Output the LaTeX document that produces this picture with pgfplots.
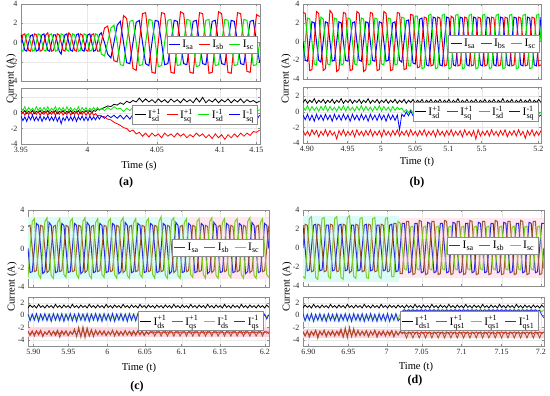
\documentclass[border=0pt]{standalone}
\usepackage{pgfplots}
\pgfplotsset{compat=1.18}
\usepackage{pgfplotstable}
\usepackage{amsmath}
\usepackage{fontspec}
\setmainfont{Liberation Serif}
\definecolor{cB}{RGB}{0,0,255}
\definecolor{cR}{RGB}{255,0,0}
\definecolor{cG}{RGB}{0,230,0}
\definecolor{dB}{RGB}{40,40,225}
\definecolor{dBr}{RGB}{155,85,45}
\definecolor{dG}{RGB}{125,205,40}
\definecolor{dR}{RGB}{235,30,30}
\definecolor{shC}{RGB}{218,251,248}
\definecolor{shP}{RGB}{255,230,239}
\definecolor{shP2}{RGB}{255,212,225}
\newcommand{\Ls}[1]{$\text{I}_{\text{#1}}$}
\newcommand{\Ld}[2]{$\text{I}^{\text{#1}}_{\text{#2}}$}

\pgfplotstableread{
t a b c d q n m
3.9500 0.8 0 -0.8 0.2 -0.2 0.7 -0.4
3.9516 0 0.8 -0.9 0.0 0.1 0.3 -1.0
3.9532 -0.8 0.9 0 0.3 -0.3 0.8 -0.5
3.9548 -0.9 0 0.8 -0.1 0.2 0.2 -1.1
3.9564 0 -0.8 0.9 0.2 -0.2 0.7 -0.4
3.9580 0.7 -0.9 0 0.0 0.1 0.3 -0.9
3.9596 0.8 0 -0.9 0.3 -0.3 0.6 -0.3
3.9612 0 0.9 -0.8 -0.1 0.2 0.2 -1.0
3.9628 -0.9 0.8 0 0.2 -0.2 0.8 -0.5
3.9644 -0.8 0 0.9 0.0 0.2 0.3 -1.0
3.9660 0 -0.9 0.8 0.3 -0.3 0.7 -0.4
3.9676 0.8 -0.8 0 -0.1 0.1 0.2 -1.1
3.9692 0.9 0 -0.8 0.2 -0.2 0.7 -0.5
3.9708 0 0.8 -0.9 0.0 0.2 0.3 -0.9
3.9724 -0.8 1.0 0 0.3 -0.3 0.8 -0.4
3.9740 -0.9 0 0.8 -0.1 0.1 0.2 -1.0
3.9756 0 -0.9 0.9 0.2 -0.2 0.6 -0.5
3.9772 0.8 -0.8 0 0.0 0.2 0.3 -1.0
3.9788 0.8 0 -0.9 0.3 -0.3 0.8 -0.4
3.9804 0 0.9 -0.8 -0.1 0.1 0.2 -1.1
3.9820 -0.9 0.8 0 0.2 -0.2 0.7 -0.5
3.9836 -1.2 0 0.9 0.0 0.2 0.3 -1.4
3.9852 0 -0.8 0.8 0.3 -0.3 0.7 -0.6
3.9868 0.8 -0.9 0 -0.1 0.1 0.2 -1.0
3.9884 0.9 0 -0.8 0.2 -0.2 0.8 -0.4
3.9900 0 1.0 -0.9 0.0 0.3 0.3 -1.0
3.9916 -0.8 0.8 0 0.3 -0.3 0.7 -0.5
3.9932 -0.9 0 0.9 -0.1 0.1 0.2 -1.0
3.9948 0 -0.8 0.8 0.2 -0.2 0.6 -0.4
3.9964 0.8 -0.9 0 0.0 0.2 0.3 -1.1
3.9980 0.9 0 -0.9 0.3 -0.3 0.8 -0.5
3.9996 0 0.9 -0.8 -0.1 0.1 0.2 -0.9
4.0012 -0.8 0.8 0 0.2 -0.2 0.7 -0.4
4.0028 -0.9 0 0.9 0.0 0.2 0.3 -1.0
4.0044 0 -0.8 0.8 0.3 -0.3 0.7 -0.5
4.0060 0.8 -0.9 0 0.0 0.1 0.2 -1.0
4.0076 0.9 0 -0.9 0.3 -0.3 0.6 -0.4
4.0092 0 0.8 -0.8 0.0 0.1 0.3 -0.9
4.0108 -0.9 0.9 0 0.3 -0.3 0.7 -0.5
4.0124 -0.8 0 0.9 0.2 -0.1 0.3 -0.9
4.0140 0 -0.9 0.8 0.5 -0.4 0.7 -0.4
4.0156 0.8 -0.9 0 0.4 -0.3 0.3 -0.8
4.0172 1.0 0 -1.2 0.5 -0.4 0.6 -0.4
4.0199 0 1.5 -1.4 0.7 -0.5 0.3 -0.7
4.0225 -1.2 1.7 0 0.9 -0.8 0.7 -0.3
4.0252 -1.6 0 1.5 0.8 -0.9 0.4 -0.6
4.0278 0 -1.9 1.8 1.1 -1.2 0.8 -0.3
4.0305 1.8 -2.0 0 1.0 -1.4 0.5 -0.7
4.0331 2.2 0 -2.3 1.3 -1.6 0.6 -0.3
4.0358 0 2.8 -2.4 1.1 -1.9 0.2 -0.8
4.0384 -2.1 2.5 0 1.5 -2.0 0.6 -0.3
4.0411 -2.2 0 2.2 1.3 -2.4 0.3 -0.8
4.0437 0 -2.7 2.3 1.6 -2.2 0.7 -0.2
4.0464 2.1 -2.9 0 1.4 -2.7 0.2 -0.9
4.0490 2.3 0 -2.4 1.9 -2.5 0.6 -0.3
4.0517 0 3.0 -2.3 1.4 -3.0 0.3 -0.8
4.0543 -2.2 3.1 0 1.8 -2.6 0.7 -0.2
4.0570 -2.4 0 2.4 1.4 -3.1 0.2 -0.9
4.0596 0 -3.1 2.3 1.7 -2.6 0.6 -0.3
4.0623 2.3 -3.2 0 1.3 -3.0 0.3 -0.8
4.0649 2.2 0 -2.5 1.8 -2.7 0.7 -0.2
4.0676 0 3.1 -2.4 1.4 -3.2 0.2 -0.9
4.0702 -2.3 3.0 0 1.7 -2.6 0.6 -0.3
4.0729 -2.2 0 2.3 1.3 -3.0 0.3 -0.8
4.0755 0 -3.1 2.4 1.8 -2.7 0.7 -0.2
4.0782 2.3 -3.2 0 1.4 -3.1 0.2 -0.9
4.0808 2.2 0 -2.4 1.7 -2.6 0.6 -0.3
4.0835 0 3.2 -2.3 1.3 -3.0 0.3 -0.8
4.0861 -2.2 3.0 0 1.8 -2.7 0.7 -0.2
4.0888 -2.3 0 2.4 1.4 -3.2 0.2 -0.9
4.0914 0 -3.1 2.3 1.7 -2.8 0.6 -0.3
4.0941 2.2 -3.2 0 1.3 -3.1 0.3 -0.8
4.0967 2.3 0 -2.5 1.9 -2.6 0.7 -0.2
4.0994 0 3.1 -2.4 1.4 -3.0 0.2 -0.9
4.1020 -2.2 3.0 0 2.0 -2.7 0.6 -0.3
4.1047 -2.3 0 2.3 1.3 -3.2 0.3 -0.8
4.1073 0 -3.2 2.4 1.7 -2.8 0.7 -0.2
4.1100 2.2 -3.1 0 1.4 -3.3 0.2 -0.9
4.1126 2.3 0 -2.4 1.8 -2.7 0.6 -0.3
4.1153 0 3.2 -2.3 1.3 -3.2 0.3 -0.8
4.1179 -2.2 3.0 0 1.7 -2.8 0.7 -0.2
4.1206 -2.3 0 2.4 1.4 -3.4 0.2 -0.9
4.1232 0 -3.1 2.3 1.8 -2.8 0.6 -0.3
4.1259 2.3 -3.2 0 1.3 -3.2 0.3 -0.8
4.1285 2.2 0 -2.4 1.7 -2.7 0.7 -0.2
4.1312 0 3.1 -2.3 1.4 -3.1 0.2 -0.9
4.1338 -2.2 3.0 0 1.8 -2.6 0.6 -0.3
4.1365 -2.3 0 2.4 1.3 -3.0 0.3 -0.8
4.1391 0 -3.0 2.3 1.7 -2.6 0.7 -0.2
4.1418 2.2 -3.1 0 1.4 -2.9 0.2 -0.9
4.1444 2.3 0 -2.4 1.6 -2.4 0.5 -0.3
4.1471 0 2.9 -2.3 1.3 -2.5 0.2 -0.9
4.1497 -2.1 2.7 0 1.5 -2.2 0.4 -0.3
}\tabA

\pgfplotstableread{
t a b c d q n m
4.9000 0 3.1 -2.5 1.2 -2.4 0.7 -0.4
4.9028 -2.0 3.0 0 1.6 -3.0 0.2 -1.0
4.9057 -2.1 0 2.5 1.1 -2.5 0.8 -0.3
4.9085 0 -3.1 2.4 1.5 -3.1 0.1 -1.1
4.9113 2.1 -3.0 0 1.2 -2.3 0.7 -0.4
4.9142 2.0 0 -2.4 1.7 -2.9 0.2 -1.2
4.9170 0 3.2 -2.5 1.1 -2.4 0.6 -0.3
4.9198 -2.0 3.0 0 1.5 -3.2 0.1 -1.0
4.9226 -2.2 0 2.6 1.2 -2.5 0.7 -0.4
4.9255 0 -3.1 2.4 1.6 -3.0 0.2 -1.1
4.9283 2.1 -2.9 0 1.1 -2.3 0.8 -0.3
4.9311 2.0 0 -2.4 1.5 -3.1 0.1 -1.0
4.9340 0 3.3 -2.5 1.2 -2.4 0.7 -0.4
4.9368 -2.1 3.0 0 1.6 -3.0 0.2 -1.2
4.9396 -2.0 0 2.5 1.1 -2.6 0.6 -0.3
4.9425 0 -3.2 2.4 1.5 -3.5 0.1 -1.0
4.9453 2.1 -3.0 0 1.2 -2.4 0.7 -0.4
4.9481 2.0 0 -2.5 1.7 -3.0 0.2 -1.1
4.9509 0 3.1 -2.4 1.1 -2.3 0.8 -0.3
4.9538 -2.0 3.0 0 1.5 -3.1 0.1 -1.0
4.9566 -2.1 0 2.5 1.2 -2.5 0.7 -0.4
4.9594 0 -3.1 2.4 1.6 -3.0 0.2 -1.2
4.9623 2.0 -3.0 0 1.1 -2.4 0.6 -0.3
4.9651 2.1 0 -2.4 1.5 -3.2 0.1 -1.0
4.9679 0 3.2 -2.5 1.2 -2.3 0.7 -0.4
4.9708 -2.0 3.0 0 1.6 -3.0 0.2 -1.1
4.9736 -2.1 0 2.5 1.1 -2.5 0.8 -0.3
4.9764 0 -3.2 2.4 1.5 -3.1 0.1 -1.0
4.9792 2.1 -3.0 0 1.2 -2.4 0.7 -0.4
4.9821 2.0 0 -2.5 1.7 -3.0 0.2 -1.2
4.9849 0 3.1 -2.4 1.1 -2.3 0.6 -0.3
4.9877 -2.0 3.0 0 1.5 -3.1 0.1 -1.0
4.9906 -2.1 0 2.5 1.2 -2.5 0.7 -0.4
4.9934 0 -3.1 2.4 1.6 -3.0 0.2 -1.1
4.9962 2.1 -3.0 0 1.1 -2.4 0.8 -0.3
4.9991 2.0 0 -2.4 1.5 -3.2 0.1 -1.0
5.0019 0 3.2 -2.5 1.2 -2.3 0.7 -0.4
5.0047 -2.1 3.0 0 1.6 -3.0 0.2 -1.2
5.0075 -2.0 0 2.5 1.1 -2.5 0.6 -0.3
5.0104 0 -3.1 2.4 1.5 -3.1 0.1 -1.0
5.0132 2.0 -3.0 0 1.2 -2.4 0.7 -0.4
5.0160 2.1 0 -2.5 1.6 -3.0 0.2 -1.1
5.0189 0 3.1 -2.4 1.1 -2.3 0.6 -0.4
5.0217 -2.0 3.0 0 1.5 -3.1 0.3 -2.3
5.0245 -2.2 0 2.6 1.2 -2.5 0.5 -0.3
5.0274 0 -3.0 2.5 1.6 -3.0 0.0 -0.6
5.0302 2.2 -2.9 0 1.1 -2.4 0.3 0.0
5.0330 2.3 0 -2.6 1.5 -3.1 -0.1 -0.5
5.0358 0 2.9 -2.6 1.2 -2.3 0.3 0.1
5.0387 -2.3 2.8 0 1.6 -3.0 -0.1 -0.5
5.0415 -2.4 0 2.7 1.1 -2.5 0.3 0.0
5.0443 0 -2.8 2.7 1.5 -3.1 -0.2 -0.6
5.0472 2.4 -2.7 0 1.2 -2.4 0.3 0.1
5.0500 2.5 0 -2.9 1.6 -3.0 -0.1 -0.5
5.0528 0 2.6 -2.8 1.1 -2.3 0.3 0.0
5.0557 -2.5 2.5 0 1.5 -3.1 -0.2 -0.6
5.0585 -2.6 0 2.8 1.2 -2.5 0.3 0.1
5.0613 0 -2.6 2.9 1.6 -3.0 -0.1 -0.5
5.0641 2.6 -2.5 0 1.1 -2.4 0.3 0.0
5.0670 2.5 0 -2.9 1.5 -3.2 -0.2 -0.6
5.0698 0 2.6 -2.8 1.2 -2.3 0.3 0.1
5.0726 -2.5 2.5 0 1.6 -3.0 -0.1 -0.5
5.0755 -2.6 0 2.8 1.1 -2.5 0.3 0.0
5.0783 0 -2.6 2.9 1.5 -3.1 -0.2 -0.6
5.0811 2.6 -2.5 0 1.2 -2.4 0.3 0.1
5.0840 2.5 0 -2.9 1.6 -3.0 -0.1 -0.5
5.0868 0 2.7 -2.8 1.1 -2.3 0.3 0.0
5.0896 -2.5 2.5 0 1.5 -3.1 -0.2 -0.6
5.0924 -2.6 0 2.8 1.2 -2.5 0.3 0.1
5.0953 0 -2.6 2.9 1.7 -3.0 -0.1 -0.5
5.0981 2.6 -2.5 0 1.1 -2.4 0.3 0.0
5.1009 2.5 0 -2.9 1.5 -3.2 -0.2 -0.6
5.1038 0 2.6 -2.8 1.2 -2.3 0.3 0.1
5.1066 -2.5 2.5 0 1.6 -3.0 -0.1 -0.5
5.1094 -2.6 0 2.8 1.1 -2.5 0.3 0.0
5.1123 0 -2.6 2.9 1.5 -3.1 -0.2 -0.6
5.1151 2.6 -2.5 0 1.2 -2.4 0.3 0.1
5.1179 2.5 0 -2.9 1.6 -3.5 -0.1 -0.5
5.1207 0 2.6 -2.8 1.1 -2.3 0.3 0.0
5.1236 -2.5 2.5 0 1.5 -3.1 -0.2 -0.6
5.1264 -2.6 0 2.8 1.2 -2.5 0.3 0.1
5.1292 0 -2.6 2.9 1.6 -3.0 -0.1 -0.5
5.1321 2.6 -2.5 0 1.1 -2.4 0.3 0.0
5.1349 2.5 0 -2.9 1.5 -3.1 -0.2 -0.6
5.1377 0 2.6 -2.8 1.2 -2.3 0.3 0.1
5.1406 -2.5 2.5 0 1.6 -3.0 -0.1 -0.5
5.1434 -2.6 0 2.8 1.1 -2.5 0.3 0.0
5.1462 0 -2.6 2.9 1.5 -3.1 -0.2 -0.6
5.1490 2.6 -2.5 0 1.2 -2.4 0.3 0.1
5.1519 2.5 0 -2.9 1.7 -3.0 -0.1 -0.5
5.1547 0 2.6 -2.8 1.1 -2.3 0.3 0.0
5.1575 -2.5 2.5 0 1.5 -3.2 -0.2 -0.6
5.1604 -2.6 0 2.8 1.2 -2.5 0.3 0.1
5.1632 0 -2.6 2.9 1.6 -3.0 -0.1 -0.5
5.1660 2.6 -2.5 0 1.1 -2.4 0.3 0.0
5.1689 2.5 0 -2.9 1.5 -3.1 -0.2 -0.6
5.1717 0 2.6 -2.8 1.2 -2.3 0.3 0.1
5.1745 -2.5 2.5 0 1.6 -3.0 -0.1 -0.5
5.1773 -2.6 0 2.8 1.1 -2.5 0.3 0.0
5.1802 0 -2.6 2.9 1.5 -3.4 -0.2 -0.6
5.1830 2.6 -2.5 0 1.2 -2.4 0.3 0.1
5.1858 2.5 0 -2.9 1.6 -3.0 -0.1 -0.5
5.1887 0 2.6 -2.8 1.1 -2.3 0.3 0.0
5.1915 -2.5 2.5 0 1.5 -3.1 -0.2 -0.6
5.1943 -2.6 0 2.8 1.2 -2.5 0.2 -0.2
5.1972 0 -2.6 2.9 1.6 -3.0 -0.3 -0.6
5.2000 2.6 -2.5 0 1.2 -2.4 0.0 -0.4
}\tabB

\pgfplotstableread{
t a b c d r q n m
5.9000 0 2.3 -3.0 1.2 -2.5 -2.8 0.1 0.3
5.9026 -2.5 2.4 0 1.7 -3.3 -3.1 -0.6 -0.9
5.9053 -2.4 0 2.8 1.3 -2.7 -2.5 0.2 0.2
5.9079 0 -2.4 3.1 1.6 -3.1 -3.4 -0.5 -0.8
5.9105 2.6 -2.3 0 1.2 -2.5 -2.6 0.1 0.3
5.9132 2.4 0 -2.7 1.8 -3.2 -3.0 -0.6 -1.0
5.9158 0 2.4 -3.1 1.3 -2.6 -2.4 0.2 0.2
5.9184 -2.6 2.3 0 1.6 -3.3 -3.5 -0.5 -0.8
5.9210 -2.4 0 2.8 1.2 -2.7 -2.7 0.1 0.3
5.9237 0 -2.5 3.2 1.7 -3.1 -3.1 -0.6 -0.9
5.9263 2.7 -2.3 0 1.3 -2.5 -2.5 0.2 0.2
5.9289 2.4 0 -2.8 1.6 -3.2 -3.3 -0.5 -1.0
5.9316 0 2.3 -3.1 1.2 -2.6 -2.6 0.1 0.3
5.9342 -2.5 2.4 0 1.8 -3.3 -3.0 -0.6 -0.8
5.9368 -2.4 0 2.7 1.3 -2.7 -2.4 0.2 0.2
5.9395 0 -2.4 3.1 1.6 -3.1 -3.6 -0.5 -0.9
5.9421 2.6 -2.3 0 1.2 -2.5 -2.7 0.1 0.3
5.9447 2.4 0 -2.7 1.7 -3.2 -3.0 -0.6 -1.0
5.9473 0 2.4 -3.0 1.3 -2.6 -2.5 0.2 0.2
5.9500 -2.5 2.3 0 1.6 -3.3 -3.3 -0.5 -0.8
5.9526 -2.4 0 2.8 1.2 -2.7 -2.6 0.1 0.3
5.9552 0 -2.4 3.1 1.8 -3.1 -3.1 -0.6 -0.9
5.9579 2.6 -2.3 0 1.3 -2.5 -2.2 0.2 0.2
5.9605 2.4 0 -2.7 1.6 -3.2 -3.5 -0.5 -1.0
5.9631 0 2.4 -3.1 1.2 -2.4 -1.9 0.1 0.3
5.9658 -2.6 2.3 0 1.7 -3.3 -3.6 -0.6 -0.8
5.9684 -2.4 0 2.8 1.3 -2.3 -1.8 0.2 0.2
5.9710 0 -2.5 3.2 1.6 -3.2 -3.7 -0.5 -0.9
5.9736 2.7 -2.3 0 1.2 -2.4 -2.0 0.1 0.3
5.9763 2.4 0 -2.8 1.8 -3.3 -3.4 -0.6 -1.0
5.9789 0 2.3 -3.1 1.3 -2.5 -2.3 0.2 0.2
5.9815 -2.5 2.4 0 1.6 -3.2 -3.5 -0.5 -0.8
5.9842 -2.4 0 2.7 1.2 -2.6 -2.4 0.1 0.3
5.9868 0 -2.4 3.1 1.7 -3.1 -3.2 -0.6 -0.9
5.9894 2.6 -2.3 0 1.3 -2.5 -2.6 0.2 0.2
5.9921 2.4 0 -2.7 1.6 -3.2 -3.1 -0.5 -1.0
5.9947 0 2.4 -3.0 1.2 -2.6 -2.5 0.1 0.3
5.9973 -2.5 2.3 0 1.8 -3.3 -3.3 -0.6 -0.8
5.9999 -2.4 0 2.8 1.3 -2.7 -2.6 0.2 0.2
6.0026 0 -2.4 3.1 1.6 -3.1 -3.2 -0.5 -0.9
6.0052 2.6 -2.3 0 1.2 -2.5 -2.4 0.1 0.3
6.0078 2.4 0 -2.7 1.7 -3.2 -3.4 -0.6 -1.0
6.0105 0 2.4 -3.1 1.3 -2.6 -2.5 0.2 0.2
6.0131 -2.6 2.3 0 1.6 -3.3 -3.1 -0.5 -0.8
6.0157 -2.4 0 2.8 1.2 -2.7 -2.6 0.1 0.3
6.0184 0 -2.5 3.2 1.8 -3.1 -3.3 -0.6 -0.9
6.0210 2.7 -2.3 0 1.3 -2.5 -2.5 0.2 0.2
6.0236 2.4 0 -2.8 1.6 -3.2 -3.2 -0.5 -1.0
6.0262 0 2.3 -3.1 1.2 -2.6 -2.6 0.1 0.3
6.0289 -2.5 2.4 0 1.7 -3.3 -3.0 -0.6 -0.8
6.0315 -2.4 0 2.7 1.3 -2.7 -2.5 0.2 0.2
6.0341 0 -2.4 3.1 1.6 -3.1 -3.3 -0.5 -0.9
6.0368 2.6 -2.3 0 1.2 -2.5 -2.6 0.1 0.3
6.0394 2.4 0 -2.7 1.8 -3.2 -3.1 -0.6 -1.0
6.0420 0 2.4 -3.0 1.3 -2.6 -2.5 0.2 0.2
6.0447 -2.5 2.3 0 1.6 -3.3 -3.2 -0.5 -0.8
6.0473 -2.4 0 2.8 1.2 -2.7 -2.6 0.1 0.2
6.0499 0 -2.4 3.1 1.7 -3.1 -3.0 -0.4 -0.5
6.0525 2.6 -2.3 0 1.3 -2.7 -2.6 -0.2 -0.3
6.0552 2.4 0 -2.7 1.6 -2.9 -2.6 -0.4 -0.5
6.0578 0 2.4 -3.1 1.2 -2.7 -3.4 -0.2 -0.3
6.0604 -2.5 2.3 0 1.7 -2.9 -2.6 -0.4 -0.5
6.0631 -2.4 0 2.8 1.3 -2.7 -2.6 -0.2 -0.3
6.0657 0 -2.4 3.3 1.6 -2.9 -3.4 -0.4 -0.5
6.0683 2.6 -2.3 0 1.2 -2.7 -2.6 -0.2 -0.3
6.0710 2.4 0 -2.8 1.7 -2.9 -2.6 -0.4 -0.5
6.0736 0 2.4 -3.1 1.3 -2.7 -3.4 -0.2 -0.3
6.0762 -2.6 2.3 0 1.6 -2.9 -2.6 -0.4 -0.5
6.0788 -2.4 0 2.9 1.2 -2.7 -2.6 -0.2 -0.3
6.0815 0 -2.5 3.2 1.8 -2.9 -3.4 -0.4 -0.5
6.0841 2.7 -2.3 0 1.3 -2.7 -2.6 -0.2 -0.3
6.0867 2.4 0 -2.8 1.6 -2.9 -2.6 -0.4 -0.5
6.0894 0 2.3 -3.1 1.2 -2.7 -3.4 -0.2 -0.3
6.0920 -2.5 2.4 0 1.7 -2.9 -2.6 -0.4 -0.5
6.0946 -2.4 0 2.7 1.3 -2.7 -2.6 -0.2 -0.3
6.0973 0 -2.4 3.1 1.6 -2.9 -3.4 -0.4 -0.5
6.0999 2.6 -2.3 0 1.2 -2.7 -2.6 -0.2 -0.3
6.1025 2.4 0 -2.7 1.8 -2.9 -2.6 -0.4 -0.5
6.1051 0 2.4 -3.0 1.3 -2.7 -3.4 -0.2 -0.3
6.1078 -2.5 2.3 0 1.6 -2.9 -2.6 -0.4 -0.5
6.1104 -2.4 0 2.8 1.2 -2.7 -2.6 -0.2 -0.3
6.1130 0 -2.4 3.1 1.7 -2.9 -3.4 -0.4 -0.5
6.1157 2.6 -2.3 0 1.3 -2.7 -2.6 -0.2 -0.3
6.1183 2.4 0 -2.7 1.6 -2.9 -2.6 -0.4 -0.5
6.1209 0 2.4 -3.1 1.2 -2.7 -3.4 -0.2 -0.3
6.1236 -2.6 2.3 0 1.8 -2.9 -2.6 -0.4 -0.5
6.1262 -2.4 0 2.8 1.3 -2.7 -2.6 -0.2 -0.3
6.1288 0 -2.5 3.2 1.6 -2.9 -3.4 -0.4 -0.5
6.1314 2.7 -2.3 0 1.2 -2.7 -2.6 -0.2 -0.3
6.1341 2.4 0 -2.8 1.7 -2.9 -2.6 -0.4 -0.5
6.1367 0 2.3 -3.1 1.3 -2.7 -3.4 -0.2 -0.3
6.1393 -2.5 2.4 0 1.6 -2.9 -2.6 -0.4 -0.5
6.1420 -2.4 0 2.7 1.2 -2.7 -2.6 -0.2 -0.3
6.1446 0 -2.4 3.1 1.8 -2.9 -3.4 -0.4 -0.5
6.1472 2.6 -2.3 0 1.3 -2.7 -2.6 -0.2 -0.3
6.1499 2.4 0 -2.7 1.6 -2.9 -2.6 -0.4 -0.5
6.1525 0 2.4 -3.0 1.2 -2.7 -3.4 -0.2 -0.3
6.1551 -2.5 2.3 0 1.7 -2.9 -2.6 -0.4 -0.5
6.1577 -2.4 0 2.8 1.3 -2.7 -2.6 -0.2 -0.3
6.1604 0 -2.4 3.1 1.6 -2.9 -3.4 -0.4 -0.5
6.1630 2.6 -2.3 0 1.2 -2.7 -2.6 -0.2 -0.3
6.1656 2.4 0 -2.7 1.8 -2.9 -2.6 -0.4 -0.5
6.1683 0 2.4 -3.1 1.3 -2.7 -3.4 -0.2 -0.3
6.1709 -2.6 2.3 0 1.6 -2.9 -2.6 -0.4 -0.5
6.1735 -2.4 0 2.8 1.2 -2.7 -2.6 -0.2 -0.3
6.1762 0 -2.5 3.2 1.7 -2.9 -3.4 -0.4 -0.5
6.1788 2.7 -2.3 0 1.3 -2.7 -2.6 -0.2 -0.3
6.1814 2.4 0 -2.8 1.6 -2.9 -2.6 -0.4 -0.5
6.1840 0 2.3 -3.1 1.2 -2.7 -3.4 -0.2 -0.3
6.1867 -2.5 2.4 0 1.7 -2.9 -2.6 -0.4 -0.5
6.1893 -2.4 0 2.7 1.3 -2.7 -2.6 -0.2 -0.3
6.1919 0 -2.4 3.1 1.6 -2.9 -3.4 -0.4 -0.5
6.1946 2.6 -2.3 0 1.2 -2.7 -2.6 0.1 0.2
6.1972 2.4 0 -2.7 1.7 -2.9 -2.6 -0.3 -0.6
6.1998 0 2.4 -3.0 1.3 -2.7 -3.0 0.1 0.1
}\tabC

\pgfplotstableread{
t a b c d r q n m
6.9000 2.4 0 -3.0 1.2 -2.6 -2.8 -0.1 0.3
6.9026 0 2.5 -3.2 1.7 -3.3 -3.4 -0.7 -0.9
6.9053 -2.4 2.4 0 1.3 -2.7 -2.5 -0.2 0.2
6.9079 -2.3 0 3.1 1.6 -3.2 -3.6 -0.6 -0.8
6.9105 0 -2.5 3.3 1.2 -2.6 -2.7 -0.1 0.3
6.9132 2.4 -2.4 0 1.8 -3.3 -3.1 -0.7 -1.0
6.9158 2.5 0 -3.1 1.3 -2.5 -2.4 -0.2 0.2
6.9184 0 2.5 -3.3 1.6 -3.4 -3.8 -0.6 -0.8
6.9210 -2.4 2.4 0 1.2 -2.6 -2.6 -0.1 0.3
6.9237 -2.3 0 3.1 1.7 -3.2 -3.2 -0.7 -0.9
6.9263 0 -2.5 3.2 1.3 -2.5 -2.4 -0.2 0.2
6.9289 2.4 -2.4 0 1.6 -3.3 -3.5 -0.6 -1.0
6.9316 2.4 0 -3.0 1.2 -2.6 -2.7 -0.1 0.3
6.9342 0 2.5 -3.2 1.8 -3.3 -3.1 -0.7 -0.8
6.9368 -2.4 2.4 0 1.3 -2.7 -2.5 -0.2 0.2
6.9395 -2.3 0 3.1 1.6 -3.2 -3.4 -0.6 -0.9
6.9421 0 -2.5 3.3 1.2 -2.6 -2.6 -0.1 0.3
6.9447 2.4 -2.4 0 1.7 -3.3 -3.0 -0.7 -1.0
6.9473 2.5 0 -3.1 1.3 -2.5 -2.2 -0.2 0.2
6.9500 0 2.5 -3.3 1.6 -3.4 -3.6 -0.6 -0.8
6.9526 -2.4 2.4 0 1.2 -2.4 -2.0 -0.1 0.3
6.9552 -2.3 0 3.2 1.8 -3.2 -3.7 -0.7 -0.9
6.9579 0 -2.6 3.4 1.3 -2.4 -1.9 -0.2 0.2
6.9605 2.4 -2.4 0 1.6 -3.3 -3.5 -0.6 -1.0
6.9631 2.4 0 -3.0 1.2 -2.5 -2.1 -0.1 0.3
6.9658 0 2.5 -3.2 1.7 -3.3 -3.4 -0.7 -0.8
6.9684 -2.4 2.4 0 1.3 -2.6 -2.4 -0.2 0.2
6.9710 -2.3 0 3.1 1.6 -3.2 -3.3 -0.6 -0.9
6.9736 0 -2.5 3.2 1.2 -2.6 -2.6 -0.1 0.3
6.9763 2.4 -2.4 0 1.8 -3.3 -3.1 -0.7 -1.0
6.9789 2.5 0 -3.1 1.3 -2.5 -2.5 -0.2 0.2
6.9815 0 2.5 -3.2 1.6 -3.4 -3.5 -0.6 -0.8
6.9842 -2.4 2.4 0 1.2 -2.6 -2.6 -0.1 0.3
6.9868 -2.3 0 3.1 1.7 -3.2 -3.2 -0.7 -0.9
6.9894 0 -2.5 3.2 1.3 -2.5 -2.4 -0.2 0.2
6.9921 2.4 -2.4 0 1.6 -3.3 -3.6 -0.6 -1.0
6.9947 2.4 0 -3.0 1.2 -2.6 -2.7 -0.1 0.3
6.9973 0 2.5 -3.2 1.8 -3.3 -3.1 -0.7 -0.8
6.9999 -2.4 2.4 0 1.3 -2.7 -2.5 -0.2 0.2
7.0026 -2.3 0 3.1 1.6 -3.2 -3.4 -0.6 -0.9
7.0052 0 -2.5 3.2 1.2 -2.6 -2.6 -0.1 0.3
7.0078 2.4 -2.4 0 1.7 -3.3 -3.0 -0.7 -1.0
7.0105 2.5 0 -3.0 1.3 -2.5 -2.5 -0.2 0.2
7.0131 0 2.6 -3.0 1.6 -3.4 -3.5 -0.6 -0.8
7.0157 -2.5 2.6 0 1.2 -2.6 -2.6 -0.1 0.3
7.0184 -2.4 0 2.8 1.7 -3.2 -3.2 -0.6 -0.9
7.0210 0 -2.7 2.6 1.3 -2.6 -2.7 0.2 -0.5
7.0236 2.6 -2.7 0 1.6 -3.0 -2.8 0.6 0.7
7.0262 2.6 0 -2.2 1.2 -2.7 -2.8 1.0 0.9
7.0289 0 2.8 -2.3 1.7 -3.0 -3.7 0.6 0.7
7.0315 -2.6 2.8 0 1.3 -2.7 -2.8 1.0 0.9
7.0341 -2.5 0 2.2 1.6 -3.0 -2.8 0.6 0.7
7.0368 0 -2.8 2.3 1.2 -2.7 -3.7 1.0 0.9
7.0394 2.6 -2.7 0 1.8 -3.0 -2.8 0.6 0.7
7.0420 2.6 0 -2.2 1.3 -2.7 -2.8 1.0 0.9
7.0447 0 2.9 -2.3 1.6 -3.0 -3.7 0.6 0.7
7.0473 -2.6 2.8 0 1.2 -2.7 -2.8 1.0 0.9
7.0499 -2.5 0 2.2 1.7 -3.0 -2.8 0.6 0.7
7.0525 0 -2.8 2.3 1.3 -2.7 -3.7 1.0 0.9
7.0552 2.7 -2.7 0 1.6 -3.0 -2.8 0.6 0.7
7.0578 2.6 0 -2.2 1.2 -2.7 -2.8 1.0 0.9
7.0604 0 2.8 -2.3 1.8 -3.0 -3.7 0.6 0.7
7.0631 -2.6 2.8 0 1.3 -2.7 -2.8 1.0 0.9
7.0657 -2.5 0 2.2 1.6 -3.0 -2.8 0.6 0.7
7.0683 0 -2.8 2.3 1.2 -2.7 -3.7 1.0 0.9
7.0710 2.6 -2.7 0 1.7 -3.0 -2.8 0.6 0.7
7.0736 2.6 0 -2.2 1.3 -2.7 -2.8 1.0 0.9
7.0762 0 2.9 -2.3 1.6 -3.0 -3.7 0.6 0.7
7.0788 -2.6 2.8 0 1.2 -2.7 -2.8 1.0 0.9
7.0815 -2.5 0 2.2 1.8 -3.0 -2.8 0.6 0.7
7.0841 0 -2.8 2.3 1.3 -2.7 -3.7 1.0 0.9
7.0867 2.7 -2.7 0 1.6 -3.0 -2.8 0.6 0.7
7.0894 2.6 0 -2.2 1.2 -2.7 -2.8 1.0 0.9
7.0920 0 2.8 -2.3 1.7 -3.0 -3.7 0.6 0.7
7.0946 -2.6 2.8 0 1.3 -2.7 -2.8 1.0 0.9
7.0973 -2.5 0 2.2 1.6 -3.0 -2.8 0.6 0.7
7.0999 0 -2.8 2.3 1.2 -2.7 -3.7 1.0 0.9
7.1025 2.6 -2.7 0 1.8 -3.0 -2.8 0.6 0.7
7.1051 2.6 0 -2.2 1.3 -2.7 -2.8 1.0 0.9
7.1078 0 2.9 -2.3 1.6 -3.0 -3.7 0.6 0.7
7.1104 -2.6 2.8 0 1.2 -2.7 -2.8 1.0 0.9
7.1130 -2.5 0 2.2 1.7 -3.0 -2.8 0.6 0.7
7.1157 0 -2.8 2.3 1.3 -2.7 -3.7 1.0 0.9
7.1183 2.7 -2.7 0 1.6 -3.0 -2.8 0.6 0.7
7.1209 2.6 0 -2.2 1.2 -2.7 -2.8 1.0 0.9
7.1236 0 2.8 -2.3 1.8 -3.0 -3.7 0.6 0.7
7.1262 -2.6 2.8 0 1.3 -2.7 -2.8 1.0 0.9
7.1288 -2.5 0 2.2 1.6 -3.0 -2.8 0.6 0.7
7.1314 0 -2.8 2.3 1.2 -2.7 -3.7 1.0 0.9
7.1341 2.6 -2.7 0 1.7 -3.0 -2.8 0.6 0.7
7.1367 2.6 0 -2.2 1.3 -2.7 -2.8 1.0 0.9
7.1393 0 2.9 -2.3 1.6 -3.0 -3.7 0.6 0.7
7.1420 -2.6 2.8 0 1.2 -2.7 -2.8 1.0 0.9
7.1446 -2.5 0 2.2 1.8 -3.0 -2.8 0.6 0.7
7.1472 0 -2.8 2.3 1.3 -2.7 -3.7 1.0 0.9
7.1499 2.7 -2.7 0 1.6 -3.0 -2.8 0.6 0.7
7.1525 2.6 0 -2.2 1.2 -2.7 -2.8 1.0 0.9
7.1551 0 2.8 -2.3 1.7 -3.0 -3.7 0.6 0.7
7.1577 -2.6 2.8 0 1.3 -2.7 -2.8 1.0 0.9
7.1604 -2.5 0 2.2 1.6 -3.0 -2.8 0.6 0.7
7.1630 0 -2.8 2.3 1.2 -2.7 -3.7 1.0 0.9
7.1656 2.6 -2.7 0 1.8 -3.0 -2.8 0.6 0.7
7.1683 2.6 0 -2.2 1.3 -2.7 -2.8 1.0 0.9
7.1709 0 2.9 -2.3 1.6 -3.0 -3.7 0.6 0.7
7.1735 -2.6 2.8 0 1.2 -2.7 -2.8 1.0 0.9
7.1762 -2.5 0 2.2 1.7 -3.0 -2.8 0.6 0.7
7.1788 0 -2.8 2.3 1.3 -2.7 -3.7 1.0 0.9
7.1814 2.7 -2.7 0 1.6 -3.0 -2.8 0.6 0.7
7.1840 2.6 0 -2.2 1.2 -2.7 -2.8 1.0 0.9
7.1867 0 2.8 -2.3 1.7 -3.0 -3.7 0.6 0.7
7.1893 -2.6 2.8 0 1.3 -2.7 -2.8 1.0 0.9
7.1919 -2.5 0 2.2 1.6 -3.0 -2.8 0.6 0.7
7.1946 0 -2.8 2.3 1.2 -2.7 -3.7 0.9 0.8
7.1972 2.6 -2.7 0 1.7 -3.0 -2.8 0.6 0.1
7.1998 2.6 0 -2.2 1.3 -2.7 -2.8 0.9 -0.4
}\tabD

\pgfplotsset{
  pan/.style={
    scale only axis, anchor=north west,
    axis line style={black!45, line width=0.4pt},
    tick style={black!45, line width=0.4pt},
    major tick length=2pt,
    tick align=inside,
    xmajorgrids, ymajorgrids,
    grid style={black!9, line width=0.3pt},
    tick label style={font=\fontsize{8}{9}\selectfont, text=black!85},
    every axis plot/.append style={line width=0.8pt},
    legend columns=-1,
    legend style={draw=black!45, fill=white, line width=0.4pt,
      font=\fontsize{11.5}{12}\selectfont, inner xsep=1.5pt, inner ysep=2pt,
      anchor=east, cells={anchor=west},
      /tikz/every even column/.append style={column sep=3pt}},
    legend image code/.code={\draw[##1,line width=1pt] (0pt,0pt)--(11pt,0pt);},
  },
  topax/.style={pan, ymin=-4, ymax=4, ytick={-4,-2,0,2,4}, yticklabels={-4,-2,0,2,4}, xticklabels={},
    every axis plot/.append style={line width=1pt}},
  botab/.style={pan, ymin=-4, ymax=3.2, ytick={-4,-2,0,2}, yticklabels={-4,-2,0,2}},
  botcd/.style={pan, ymin=-5, ymax=3, ytick={-4,-2,0,2}, yticklabels={-4,-2,0,2}},
}

\begin{document}
\begin{tikzpicture}
\path[use as bounding box] (0pt,-396pt) rectangle (550pt,0pt);

% ---------------- (a) ----------------
\begin{axis}[topax, at={(21pt,-4pt)}, width=239pt, height=77pt, xmin=3.95, xmax=4.15,
  xtick={3.95,4.0055,4.0636,4.1165,4.147}, legend style={at={(0.99,0.47)}}]
\addplot[cB] table[x=t,y=a]{\tabA};
\addplot[cR] table[x=t,y=b]{\tabA};
\addplot[cG] table[x=t,y=c]{\tabA};
\legend{\Ls{sa},\Ls{sb},\Ls{sc}}
\end{axis}
\begin{axis}[botab, at={(21pt,-88pt)}, width=239pt, height=56pt, xmin=3.95, xmax=4.15,
  xtick={3.95,4.0055,4.0636,4.1165,4.147}, xticklabels={3.95,4,4.05,4.1,4.15},
  legend style={at={(0.99,0.53)}}]
\addplot[black] table[x=t,y=d]{\tabA};
\addplot[cR] table[x=t,y=q]{\tabA};
\addplot[cG] table[x=t,y=n]{\tabA};
\addplot[cB] table[x=t,y=m]{\tabA};
\legend{\Ld{+1}{sd},\Ld{+1}{sq},\Ld{-1}{sd},\Ld{-1}{sq}}
\end{axis}

% ---------------- (b) ----------------
\begin{axis}[topax, at={(303pt,-4pt)}, width=238pt, height=75pt, xmin=4.90, xmax=5.2,
  xtick={4.905,4.9563,4.9983,5.0412,5.0832,5.1252,5.1966}, legend style={at={(0.993,0.47)}}]
\addplot[cB] table[x=t,y=a]{\tabB};
\addplot[cR] table[x=t,y=b]{\tabB};
\addplot[cG] table[x=t,y=c]{\tabB};
\legend{\Ls{sa},\Ls{bs},\Ls{sc}}
\end{axis}
\begin{axis}[botab, at={(303pt,-87pt)}, width=238pt, height=56pt, xmin=4.90, xmax=5.2,
  xtick={4.905,4.9563,4.9983,5.0412,5.0832,5.1252,5.1966},
  xticklabels={4.90,4.95,5,5.05,5.1,5.5,5.2}, legend style={at={(0.987,0.56)}}]
\addplot[black] table[x=t,y=d]{\tabB};
\addplot[cR] table[x=t,y=q]{\tabB};
\addplot[cG] table[x=t,y=n]{\tabB};
\addplot[cB] table[x=t,y=m]{\tabB};
\legend{\Ld{+1}{sd},\Ld{+1}{sq},\Ld{-1}{sd},\Ld{-1}{sq}}
\end{axis}

% ---------------- (c) ----------------
\begin{axis}[topax, at={(28pt,-210pt)}, width=241pt, height=77pt, xmin=5.90, xmax=6.2,
  xtick={5.9066,5.9502,5.9987,6.0456,6.0913,6.139,6.195}, legend style={at={(0.975,0.51)}}]
\addplot[fill=shC, draw=none, forget plot] coordinates {(5.9,-3.2) (6.1,-3.2) (6.1,3.3) (5.9,3.3)} -- cycle;
\addplot[fill=shP, draw=none, forget plot] coordinates {(6.1,-3.2) (6.2,-3.2) (6.2,3.3) (6.1,3.3)} -- cycle;
\addplot[dB] table[x=t,y=a]{\tabC};
\addplot[dBr] table[x=t,y=b]{\tabC};
\addplot[dG] table[x=t,y=c]{\tabC};
\legend{\Ls{sa},\Ls{sb},\Ls{sc}}
\end{axis}
\begin{axis}[botcd, at={(28pt,-297pt)}, width=241pt, height=49pt, xmin=5.90, xmax=6.2,
  xtick={5.9066,5.9502,5.9987,6.0456,6.0913,6.139,6.195},
  xticklabels={5.90,5.95,6,6.05,6.1,6.15,6.2}, legend style={at={(0.975,0.51)}}]
\addplot[fill=shP2, draw=none, forget plot] coordinates {(5.9,-3.6) (6.2,-3.6) (6.2,-2.0) (5.9,-2.0)} -- cycle;
\addplot[fill=shC, draw=none, forget plot] coordinates {(5.9,-0.9) (6.05,-0.9) (6.05,0.4) (5.9,0.4)} -- cycle;
\addplot[dR, forget plot] table[x=t,y=r]{\tabC};
\addplot[black] table[x=t,y=d]{\tabC};
\addplot[dBr] table[x=t,y=q]{\tabC};
\addplot[dG] table[x=t,y=n]{\tabC};
\addplot[dB] table[x=t,y=m]{\tabC};
\legend{\Ld{+1}{ds},\Ld{+1}{qs},\Ld{-1}{ds},\Ld{-1}{qs}}
\end{axis}

% ---------------- (d) ----------------
\begin{axis}[topax, at={(303pt,-210pt)}, width=241pt, height=76pt, xmin=6.90, xmax=7.2,
  xtick={6.9066,6.9564,7.0042,7.0478,7.0975,7.1473,7.196}, legend style={at={(0.975,0.53)}}]
\addplot[fill=shC, draw=none, forget plot] coordinates {(6.9,-3.6) (7.02,-3.6) (7.02,3.4) (6.9,3.4)} -- cycle;
\addplot[fill=shP, draw=none, forget plot] coordinates {(7.02,-3.2) (7.2,-3.2) (7.2,3.2) (7.02,3.2)} -- cycle;
\addplot[dB] table[x=t,y=a]{\tabD};
\addplot[dBr] table[x=t,y=b]{\tabD};
\addplot[dG] table[x=t,y=c]{\tabD};
\legend{\Ls{sa},\Ls{sb},\Ls{sc}}
\end{axis}
\begin{axis}[botcd, at={(303pt,-297pt)}, width=241pt, height=49pt, xmin=6.90, xmax=7.2,
  xtick={6.9066,6.9564,7.0042,7.0478,7.0975,7.1473,7.196},
  xticklabels={6.90,6.95,7,7.05,7.1,7.15,7.2}, legend style={at={(0.975,0.51)}}]
\addplot[fill=shP2, draw=none, forget plot] coordinates {(6.9,-3.7) (7.2,-3.7) (7.2,-2.2) (6.9,-2.2)} -- cycle;
\addplot[fill=shC, draw=none, forget plot] coordinates {(6.9,-1.0) (7.02,-1.0) (7.02,0.3) (6.9,0.3)} -- cycle;
\addplot[fill=shC, draw=none, forget plot] coordinates {(7.03,0.3) (7.2,0.3) (7.2,1.1) (7.03,1.1)} -- cycle;
\addplot[dR, forget plot] table[x=t,y=r]{\tabD};
\addplot[black] table[x=t,y=d]{\tabD};
\addplot[dBr] table[x=t,y=q]{\tabD};
\addplot[dG] table[x=t,y=n]{\tabD};
\addplot[dB] table[x=t,y=m]{\tabD};
\legend{\Ld{+1}{ds1},\Ld{+1}{qs1},\Ld{+1}{qs1},\Ld{-1}{qs1}}
\end{axis}

% ---------------- labels ----------------
\begin{scope}[every node/.style={font=\fontsize{10.5}{12}\selectfont, inner sep=0pt}]
\node[rotate=90] at (11pt,-79pt) {Current (A)};
\node[rotate=90] at (286pt,-79pt) {Current (A)};
\node[rotate=90] at (12pt,-287pt) {Current (A)};
\node[rotate=90] at (287pt,-287pt) {Current (A)};
\node at (139pt,-166pt) {Time (s)};
\node at (417pt,-162pt) {Time (t)};
\node at (139pt,-368pt) {Time (t)};
\node at (416pt,-367pt) {Time (t)};
\end{scope}
\begin{scope}[every node/.style={font=\fontsize{12}{13}\selectfont\bfseries, inner sep=0pt}]
\node at (126pt,-183pt) {(a)};
\node at (417pt,-183pt) {(b)};
\node at (137pt,-387pt) {(c)};
\node at (415pt,-381pt) {(d)};
\end{scope}
\end{tikzpicture}
\end{document}
